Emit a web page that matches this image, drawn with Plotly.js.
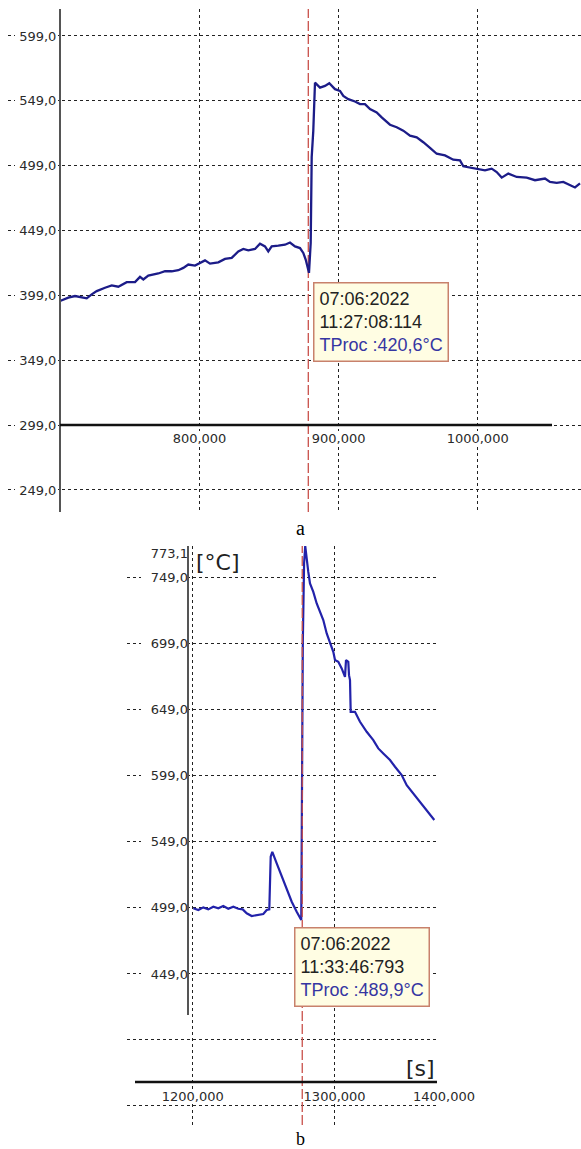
<!DOCTYPE html>
<html><head><meta charset="utf-8">
<script src="https://cdn.plot.ly/plotly-3.0.1.min.js"></script>
<style>html,body{margin:0;padding:0;background:#fff}#chart{width:581px;height:1149px}</style>
</head><body><div id="chart"></div>
<script>
// ---------- data: panel a ----------
const topTimes = [699710, 705670, 710490, 715300, 718900, 722500, 726100, 732060, 736880, 741620, 747660, 753630, 757220, 759600, 763190, 770380, 775200, 780010, 784760, 788350, 791950, 796760, 800360, 803950, 807550, 813520, 818330, 823150, 827890, 831490, 835080, 839900, 843490, 847090, 849460, 851900, 856650, 861470, 865060, 868660, 872250, 874630, 876350, 877500, 878720,
  879950, 880670, 881820, 882540, 883040, 886640, 890230, 893320, 897420, 901010, 903390, 906980, 911800, 915400, 918990, 922590, 927410, 931000, 936970, 941790, 946530, 951350, 956170, 960910, 963350, 965730, 970540, 976510, 982480, 987300, 989670, 995710, 1000450, 1005270, 1010090, 1013680, 1017280, 1022020, 1028060, 1035250, 1041220, 1048410, 1052010, 1056820, 1061570, 1066390, 1069980, 1073580];
const topTemps = [394.7, 397.3, 398.5, 397.7, 396.7, 399.8, 402.3, 404.9, 406.7, 405.7, 409.2, 409.2, 413.3, 411.3, 414.3, 415.9, 417.6, 417.6, 418.4, 420.2, 422.8, 422.0, 424.1, 426.0, 423.5, 424.5, 427.1, 427.9, 432.9, 434.8, 433.7, 434.8, 438.8, 436.8, 432.9, 436.8, 437.3, 438.1, 439.8, 436.8, 435.5, 431.7, 426.6, 421.5, 416.4,
  439.4, 505.6, 526.0, 549.0, 563.0, 559.2, 560.5, 562.5, 558.0, 556.6, 552.8, 550.3, 548.5, 546.5, 546.5, 542.6, 540.1, 536.2, 530.6, 528.6, 526.0, 522.2, 520.9, 517.1, 514.6, 512.8, 508.2, 506.9, 503.6, 503.1, 498.5, 497.5, 496.7, 495.4, 496.7, 494.1, 489.8, 492.9, 490.3, 489.8, 487.8, 489.1, 486.5, 485.7, 486.5, 484.0, 482.2, 485.3];
const cursorA = 878230;
const topXTicks = [800000, 900000, 1000000];
const topXLabels = ['800,000', '900,000', '1000,000'];
const topYTicks = [249, 299, 349, 399, 449, 499, 549, 599];
const topYLabels = ['249,0', '299,0', '349,0', '399,0', '449,0', '499,0', '549,0', '599,0'];
const axisCrossA = 299;
const tipA = ['07:06:2022', '11:27:08:114', 'TProc :420,6°C'];

// ---------- data: panel b ----------
const botTimes = [1200420, 1203950, 1207470, 1210990, 1214520, 1218040, 1221560, 1225090, 1228610, 1232130, 1235230, 1238050, 1241580, 1245100, 1249750, 1252150, 1253980, 1254970, 1256100, 1259200, 1262720, 1266240, 1269770, 1273290, 1276500,
  1277600, 1278500, 1279300, 1280340, 1281460, 1282660, 1284990, 1287380, 1289710, 1292030, 1294430, 1296750, 1299080, 1300280, 1302600, 1305000, 1307330, 1308030, 1309650, 1310150, 1310850, 1311340, 1314370, 1317890, 1322620, 1327270, 1330790, 1334320, 1339040, 1342560, 1347280, 1350810, 1355460, 1360180, 1363700, 1367230, 1370260];
const botTemps = [498.7, 497.4, 499.4, 497.9, 499.9, 498.7, 500.4, 498.4, 499.9, 498.4, 497.9, 494.9, 492.9, 493.6, 494.4, 497.4, 497.9, 537.8, 541.5, 532.8, 522.6, 512.6, 503.7, 496.1, 489.9,
  700.0, 760.0, 773.1, 762.4, 753.5, 744.8, 738.4, 729.6, 723.3, 717.0, 706.9, 700.5, 693.0, 686.7, 685.4, 680.4, 674.0, 686.7, 685.4, 675.3, 671.5, 647.5, 647.5, 640.0, 632.4, 626.1, 619.8, 616.0, 611.0, 605.9, 599.6, 592.0, 585.8, 579.4, 574.4, 569.3, 565.6];
const cursorB = 1277200;
const botXTicks = [1200000, 1300000];
const botXLabels = ['1200,000', '1300,000'];
const botExtraXTick = 1400000, botExtraXLabel = '1400,000';
const botYTicks = [349, 399, 449, 499, 549, 599, 649, 699, 749];
const botYLabels = ['', '', '449,0', '499,0', '549,0', '599,0', '649,0', '699,0', '749,0'];
const botMaxTick = [773.1], botMaxLabel = ['773,1'];
const axisCrossB = 367.2;
const tipB = ['07:06:2022', '11:33:46:793', 'TProc :489,9°C'];

// ---------- geometry ----------
const W = 581, H = 1149;
const A = {x0: 8, x1: 581, y0: 9, y1: 512, xr: [662310, 1074300], yr: [232.0, 619.8]};
const B = {x0: 127, x1: 437, y0: 546, y1: 1125, xr: [1153700, 1372160], yr: [334.6, 773.1]};
const pxToX = (P, px) => P.xr[0] + (px - P.x0) / (P.x1 - P.x0) * (P.xr[1] - P.xr[0]);
const pyToY = (P, py) => P.yr[1] - (py - P.y0) / (P.y1 - P.y0) * (P.yr[1] - P.yr[0]);
const yToPaper = (P, v) => (H - P.y1) / H + (v - P.yr[0]) / (P.yr[1] - P.yr[0]) * (P.y1 - P.y0) / H;
const xToPaper = (P, v) => P.x0 / W + (v - P.xr[0]) / (P.xr[1] - P.xr[0]) * (P.x1 - P.x0) / W;

const tickFont = {family: 'DejaVu Sans, Verdana, sans-serif', size: 13, color: '#2a2a2a'};
const grid = {showgrid: true, gridcolor: '#222', gridwidth: 1, griddash: '3px,3px', zeroline: false, ticks: '', tickmode: 'array', tickfont: tickFont, fixedrange: true};
const tipFont = {family: 'Liberation Sans, Arial, sans-serif', size: 18, color: '#222'};
const tipText = t => t[0] + '<br>' + t[1] + '<br><span style="color:#3636a2">' + t[2] + '</span>';

const traces = [
  {x: [cursorA, cursorA], y: A.yr, xaxis: 'x', yaxis: 'y', mode: 'lines', line: {color: '#c9504a', width: 1.3, dash: '10px,3px'}, hoverinfo: 'skip'},
  {x: topTimes, y: topTemps, xaxis: 'x', yaxis: 'y', mode: 'lines', line: {color: '#1c1c88', width: 2.3}, hoverinfo: 'skip'},
  {x: [cursorB, cursorB], y: B.yr, xaxis: 'x2', yaxis: 'y3', mode: 'lines', line: {color: '#c9504a', width: 1.3, dash: '10px,3px'}, hoverinfo: 'skip'},
  {x: botTimes, y: botTemps, xaxis: 'x2', yaxis: 'y2', mode: 'lines', line: {color: '#2222aa', width: 2.2}, hoverinfo: 'skip'}
];

const whiteRect = (P, xr, yr, px0, px1, py0, py1) => ({type: 'rect', xref: xr, yref: yr, layer: 'between',
  x0: pxToX(P, px0), x1: pxToX(P, px1), y0: pyToY(P, py0), y1: pyToY(P, py1), fillcolor: '#fff', line: {width: 0}});

const layout = {
  width: W, height: H, margin: {l: 0, r: 0, t: 0, b: 0},
  paper_bgcolor: '#fff', plot_bgcolor: 'rgba(0,0,0,0)', showlegend: false,
  xaxis: Object.assign({}, grid, {domain: [A.x0 / W, A.x1 / W], range: A.xr, tickvals: topXTicks, ticktext: topXLabels,
    anchor: 'free', position: yToPaper(A, axisCrossA), showline: false, ticklabelstandoff: 4}),
  yaxis: Object.assign({}, grid, {domain: [1 - A.y1 / H, 1 - A.y0 / H], range: A.yr, tickvals: topYTicks, ticktext: topYLabels,
    anchor: 'free', position: 60 / W, showline: true, linecolor: '#555', linewidth: 2}),
  xaxis2: Object.assign({}, grid, {domain: [B.x0 / W, B.x1 / W], range: B.xr, tickvals: botXTicks, ticktext: botXLabels,
    anchor: 'free', position: yToPaper(B, axisCrossB), showline: false, ticklabelstandoff: 5}),
  yaxis2: Object.assign({}, grid, {domain: [1 - B.y1 / H, 1 - B.y0 / H], range: B.yr, tickvals: botYTicks, ticktext: botYLabels,
    anchor: 'free', position: 188 / W, showline: false}),
  yaxis3: Object.assign({}, grid, {overlaying: 'y2', range: B.yr, tickvals: botMaxTick, ticktext: botMaxLabel, showgrid: false,
    anchor: 'free', position: 188 / W, showline: false, ticklabelshift: 7}),
  shapes: [
    whiteRect(A, 'x', 'y', 15, 58, 9, 512),
    whiteRect(A, 'x', 'y', 62, 581, 431, 445),
    whiteRect(B, 'x2', 'y2', 141, 186, 546, 985),
    whiteRect(B, 'x2', 'y2', 130, 437, 1089, 1102),
    {type: 'line', xref: 'paper', yref: 'y', x0: 60 / W, x1: 552 / W, y0: axisCrossA, y1: axisCrossA, line: {color: '#111', width: 2.5}, layer: 'above'},
    {type: 'line', xref: 'paper', yref: 'y2', x0: 135 / W, x1: 437 / W, y0: axisCrossB, y1: axisCrossB, line: {color: '#111', width: 2.5}, layer: 'above'},
    {type: 'line', xref: 'paper', yref: 'y2', x0: 188 / W, x1: 188 / W, y0: pyToY(B, 1015), y1: B.yr[1], line: {color: '#555', width: 2}, layer: 'above'}
  ],
  annotations: [
    {text: tipText(tipA), xref: 'x', x: cursorA, xanchor: 'left', xshift: 5, yref: 'paper', y: 1 - 282 / H, yanchor: 'top',
      align: 'left', showarrow: false, bgcolor: '#fffde3', bordercolor: '#c8816c', borderwidth: 1.5, borderpad: 5, font: tipFont},
    {text: tipText(tipB), xref: 'x2', x: cursorB, xanchor: 'left', xshift: -8, yref: 'paper', y: 1 - 927 / H, yanchor: 'top',
      align: 'left', showarrow: false, bgcolor: '#fffde3', bordercolor: '#c8816c', borderwidth: 1.5, borderpad: 5, font: tipFont},
    {text: '[°C]', xref: 'paper', x: 194 / W, xanchor: 'left', yref: 'paper', y: 1 - 562 / H, yanchor: 'middle', showarrow: false,
      font: {family: 'DejaVu Sans, sans-serif', size: 22, color: '#222'}},
    {text: '[s]', xref: 'paper', x: 420 / W, xanchor: 'center', yref: 'paper', y: 1 - 1068 / H, yanchor: 'middle', showarrow: false,
      font: {family: 'DejaVu Sans, sans-serif', size: 22, color: '#222'}},
    {text: botExtraXLabel, xref: 'paper', x: xToPaper(B, botExtraXTick), xshift: -33, xanchor: 'center', yref: 'paper', y: 1 - 1096 / H, yanchor: 'middle', showarrow: false, font: tickFont},
    {text: 'a', xref: 'paper', x: 300 / W, xanchor: 'center', yref: 'paper', y: 1 - 528 / H, yanchor: 'middle', showarrow: false,
      font: {family: 'Liberation Serif, Times New Roman, serif', size: 20, color: '#000'}},
    {text: 'b', xref: 'paper', x: 300 / W, xanchor: 'center', yref: 'paper', y: 1 - 1139 / H, yanchor: 'middle', showarrow: false,
      font: {family: 'Liberation Serif, Times New Roman, serif', size: 18, color: '#000'}}
  ]
};

Plotly.newPlot('chart', traces, layout, {staticPlot: true, displayModeBar: false});
</script>
</body></html>
